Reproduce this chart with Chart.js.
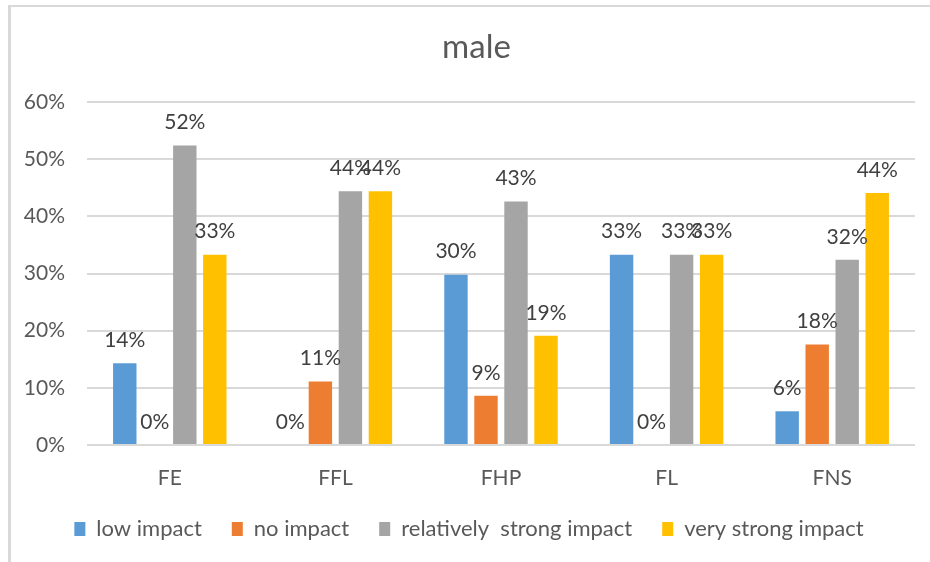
<!DOCTYPE html>
<html>
<head>
<meta charset="utf-8">
<script src="https://cdn.jsdelivr.net/npm/chart.js@4"></script>
<style>
  body { margin: 0; background: #fff; overflow: hidden; }
  #frame {
    position: absolute; left: 8px; top: 5px; width: 922px; height: 557px;
    border-left: 3px solid #d9d9d9; border-top: 2px solid #d9d9d9;
  }
  #chart { position: absolute; left: 0; top: 0; }
</style>
</head>
<body>
<div id="frame"><canvas id="chart" width="919" height="555"></canvas></div>
<script>
const categories = ["FE", "FFL", "FHP", "FL", "FNS"];
const seriesNames = ["low impact", "no impact", "relatively  strong impact", "very strong impact"];
const lowImpact = [14.3, 0, 29.8, 33.3, 5.9];
const noImpact = [0, 11.1, 8.6, 0, 17.6];
const strongImpact = [52.4, 44.4, 42.6, 33.3, 32.4];
const veryStrongImpact = [33.3, 44.4, 19.1, 33.3, 44.1];
const colores = ["#5B9BD5", "#ED7D31", "#A5A5A5", "#FFC000"];
const yTicks = [0, 10, 20, 30, 40, 50, 60];
const titulo = "male";

const fuente = "Lato, 'Open Sans', sans-serif";

// etiquetas de valor encima de cada barra
const etiquetasBarras = {
    id: "etiquetasBarras",
    afterDatasetsDraw(chart) {
        const ctx = chart.ctx;
        ctx.save();
        ctx.font = "21px " + fuente;
        ctx.fillStyle = "#404040";
        ctx.textAlign = "center";
        ctx.textBaseline = "middle";
        chart.data.datasets.forEach((ds, i) => {
            chart.getDatasetMeta(i).data.forEach((bar, j) => {
                ctx.fillText(Math.round(ds.data[j]) + "%", bar.x, bar.y - 23);
            });
        });
        ctx.restore();
    },
};

// título centrado en todo el marco, no sólo sobre el área de barras
const tituloMarco = {
    id: "tituloMarco",
    afterDraw(chart) {
        const ctx = chart.ctx;
        ctx.save();
        ctx.font = "33px " + fuente;
        ctx.fillStyle = "#595959";
        ctx.textAlign = "center";
        ctx.textBaseline = "middle";
        ctx.fillText(titulo, chart.width / 2 + 6, 40);
        ctx.restore();
    },
};

const series = [lowImpact, noImpact, strongImpact, veryStrongImpact];

new Chart(document.getElementById("chart"), {
    type: "bar",
    data: {
        labels: categories,
        datasets: series.map((data, i) => ({
            label: seriesNames[i],
            data,
            backgroundColor: colores[i],
            barPercentage: 0.78,
            categoryPercentage: 0.725,
        })),
    },
    options: {
        responsive: false,
        animation: false,
        layout: { padding: { left: 12, right: 15, top: 95, bottom: 12 } },
        scales: {
            x: {
                grid: { display: false },
                border: { display: false },
                ticks: { color: "#595959", font: { size: 21, family: fuente }, padding: 13 },
                afterFit: (axis) => { axis.height = 43; },
            },
            y: {
                min: 0,
                max: 60,
                afterBuildTicks: (axis) => { axis.ticks = yTicks.map((v) => ({ value: v })); },
                afterFit: (axis) => { axis.width = 64; },
                grid: { color: "#d9d9d9", lineWidth: 2, drawTicks: false },
                border: { display: false },
                ticks: {
                    color: "#595959",
                    font: { size: 21, family: fuente },
                    padding: 22,
                    callback: (v) => v + "%",
                },
            },
        },
        plugins: {
            title: { display: false },
            legend: {
                position: "bottom",
                labels: {
                    color: "#595959",
                    font: { size: 22, family: fuente },
                    boxWidth: 11,
                    boxHeight: 14,
                    padding: 30,
                },
            },
            tooltip: { enabled: false },
        },
    },
    plugins: [etiquetasBarras, tituloMarco],
});
</script>
</body>
</html>
